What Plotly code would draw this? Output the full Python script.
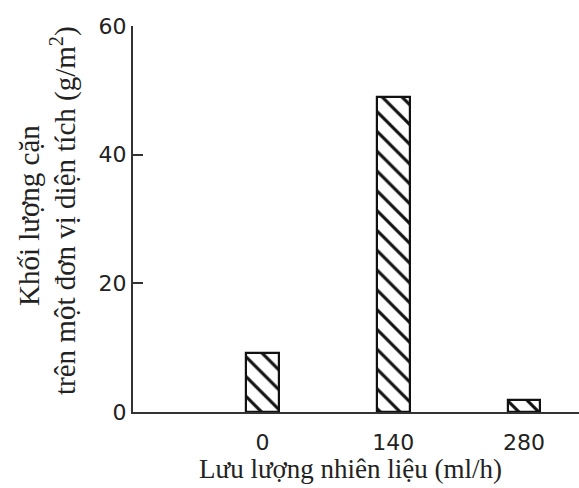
import plotly.graph_objects as go

categories = ["0", "140", "280"]
values = [9.1, 49.0, 1.9]
y_ticks = [0, 20, 40, 60]
x_title = "Lưu lượng nhiên liệu (ml/h)"
y_title_lines = ["Khối lượng cặn", "trên một đơn vị diện tích (g/m<sup>2</sup>)"]

fig = go.Figure()
fig.add_trace(go.Bar(
    x=categories, y=values, width=0.25,
    marker=dict(color="white",
                line=dict(color="#111", width=2.2),
                pattern=dict(shape="\\", fgcolor="#111", bgcolor="white",
                             size=14, solidity=0.22, fgopacity=1)),
    showlegend=False,
))

W, H = 579, 488
L, R, T, B = 133, 0, 26, 76
pw, ph = W - L - R, H - T - B

def px_x(px):
    return (px - L) / pw

def px_y(py):
    return (H - B - py) / ph

tick_font = dict(family="DejaVu Sans", size=22, color="#222")
title_font = dict(family="Liberation Serif", size=27, color="#222")
ytitle_font = dict(family="Liberation Serif", size=29, color="#222")

annotations = [
    dict(text=x_title, xref="paper", yref="paper", x=px_x(350), y=px_y(469),
         showarrow=False, xanchor="center", yanchor="middle", font=title_font),
]
for txt, cx, cy in zip(y_title_lines, [29, 63], [216, 211]):
    annotations.append(dict(text=txt, xref="paper", yref="paper", x=px_x(cx), y=px_y(cy),
                            showarrow=False, xanchor="center", yanchor="middle",
                            textangle=-90, font=ytitle_font))

fig.update_layout(
    width=W, height=H,
    margin=dict(l=L, r=R, t=T, b=B, pad=0),
    plot_bgcolor="white", paper_bgcolor="white",
    bargap=0,
    xaxis=dict(type="category", range=[-0.99, 2.42], showline=True,
               linecolor="#333", linewidth=2, ticks="", showgrid=False,
               zeroline=False, tickfont=tick_font, ticklabelstandoff=10),
    yaxis=dict(range=[0, 60], tickvals=y_ticks, showline=True, linecolor="#333",
               linewidth=2, ticks="inside", ticklen=10, tickwidth=1.5, tickcolor="#333",
               showgrid=False, zeroline=False, tickfont=tick_font),
    annotations=annotations,
)

fig.write_html("out.html")
